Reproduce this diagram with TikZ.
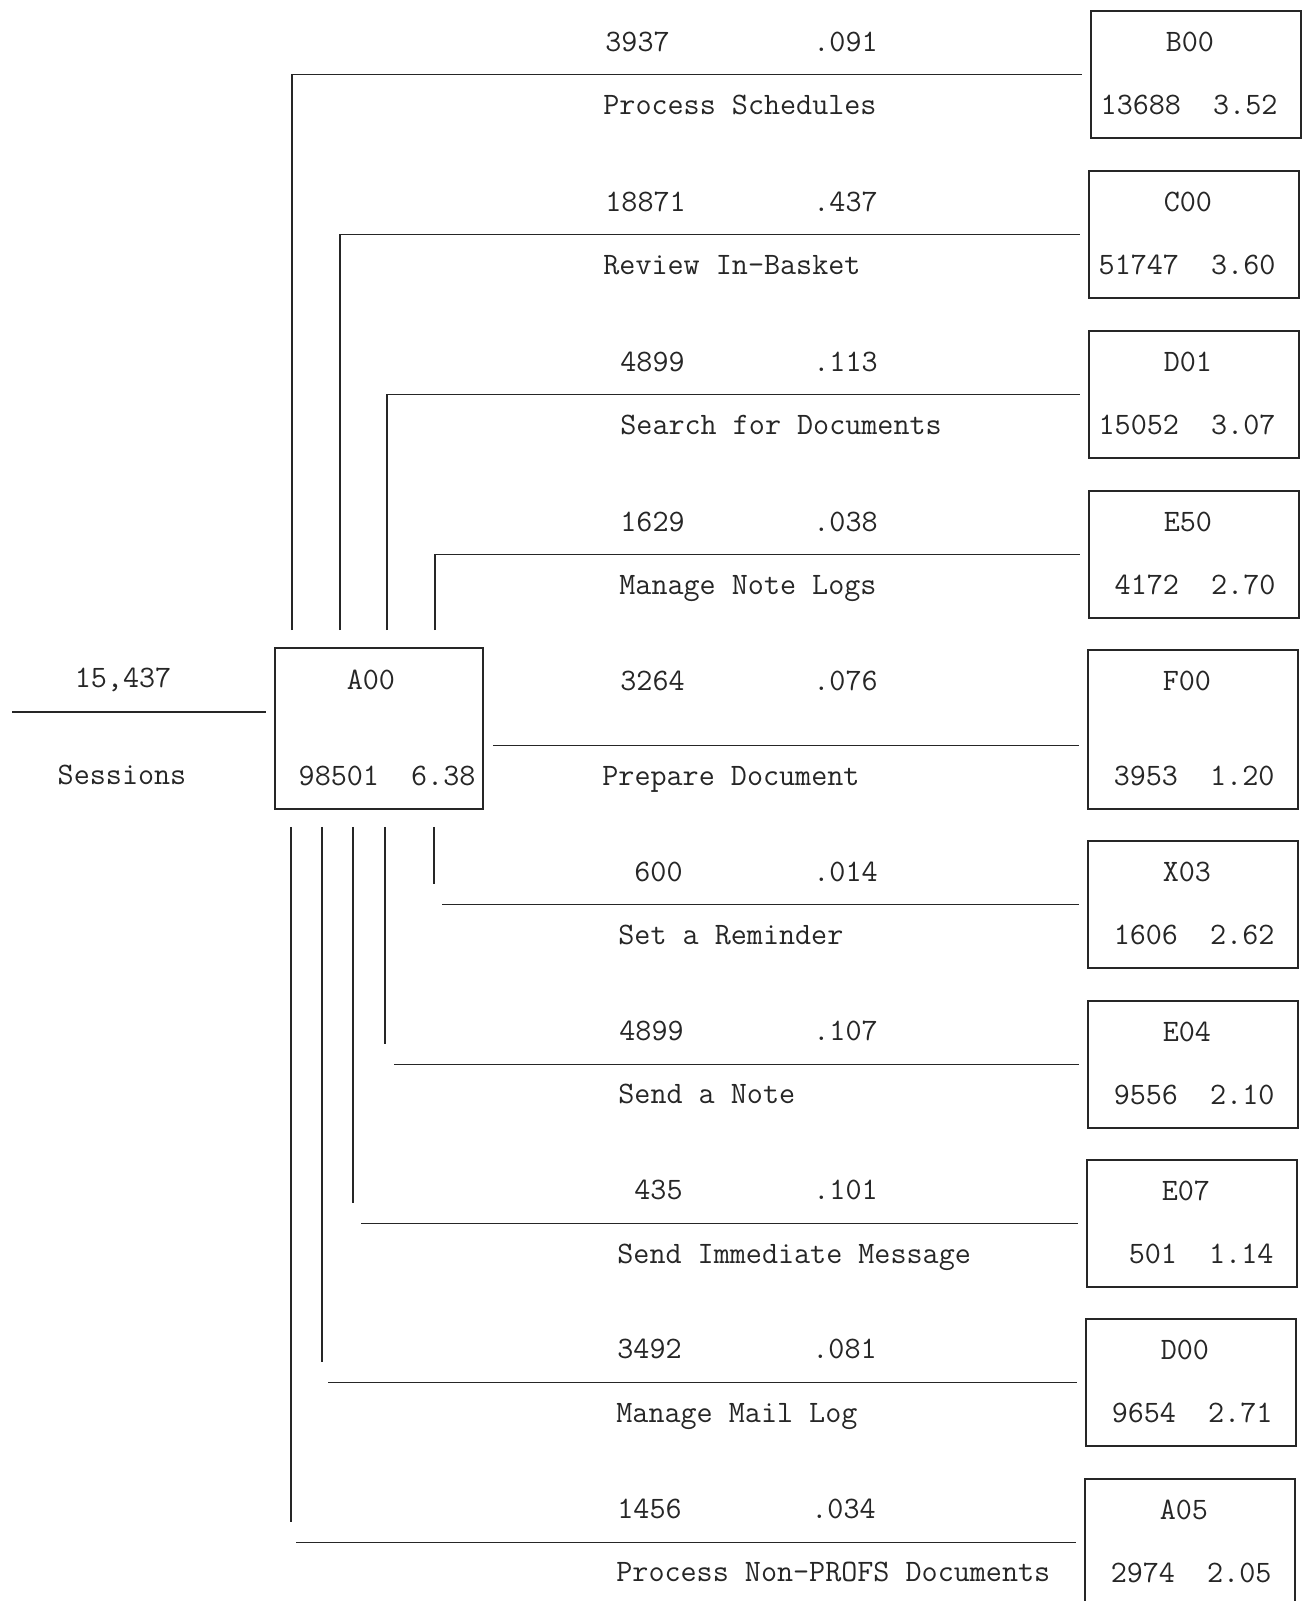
\documentclass[tikz,border=0pt]{standalone}
\usepackage{fontspec}
\usepackage{tikz}
\usetikzlibrary{positioning, calc}
\tikzset{
  modbox/.style   = {draw=black!85, line width=0.9pt, anchor=north west,
                     inner sep=0pt, minimum width=105pt, minimum height=63.5pt},
  tallbox/.style  = {modbox, minimum height=79.5pt},
  mainbox/.style  = {modbox, minimum width=104pt, minimum height=80.5pt},
  typed/.style    = {inner sep=0pt, text height=9.5pt, text depth=0pt,
                     text=black!85, font=\fontsize{15.6pt}{18pt}\selectfont\ttfamily},
  rowtxt/.style   = {typed, anchor=west},
  calllink/.style = {draw=black!85, line width=0.9pt},
}

\begin{document}
\begin{tikzpicture}[x=0.5pt, y=-0.5pt]
    \useasboundingbox (0,0) rectangle (1302,1601);
    \clip (0,0) rectangle (1302,1601);
    % calling module
    \node[mainbox] (a00) at (274,647) {};
    \node[typed] (a00id) at ($(a00.north)+(-8,33)$) {A00};
    \node[typed, anchor=east] (a00val) at ($(a00.north east)+(-8,129)$) {98501~~6.38};
    \node[typed] (sesscnt) at (123,678) {15,437};
    \node[typed] (sesslbl) at (122,775) {Sessions};
    \coordinate (sessin) at (12,712);
    \draw[calllink] (sessin) -- ($(sessin -| a00.west)+(-8,0)$);
    % called modules
    \node[modbox] (b00) at (1090,10) {};
    \node[modbox] (c00) at (1088,170) {};
    \node[modbox] (d01) at (1088,330) {};
    \node[modbox] (e50) at (1088,490) {};
    \node[tallbox] (f00) at (1087,649) {};
    \node[modbox] (x03) at (1087,840) {};
    \node[modbox] (e04) at (1087,1000) {};
    \node[modbox] (e07) at (1086,1159) {};
    \node[modbox] (d00) at (1085,1318) {};
    \node[modbox] (a05) at (1084,1478) {};
    \node[typed] (b00id) at ($(b00.north)+(-6,32)$) {B00};
    \node[typed, anchor=east] (b00val) at ($(b00.north east)+(-24,95)$) {13688~~3.52};
    \node[typed] (c00id) at ($(c00.north)+(-6,32)$) {C00};
    \node[typed, anchor=east] (c00val) at ($(c00.north east)+(-24,95)$) {51747~~3.60};
    \node[typed] (d01id) at ($(d01.north)+(-6,32)$) {D01};
    \node[typed, anchor=east] (d01val) at ($(d01.north east)+(-24,95)$) {15052~~3.07};
    \node[typed] (e50id) at ($(e50.north)+(-6,32)$) {E50};
    \node[typed, anchor=east] (e50val) at ($(e50.north east)+(-24,95)$) {4172~~2.70};
    \node[typed] (f00id) at ($(f00.north)+(-6,32)$) {F00};
    \node[typed, anchor=east] (f00val) at ($(f00.north east)+(-24,127)$) {3953~~1.20};
    \node[typed] (x03id) at ($(x03.north)+(-6,32)$) {X03};
    \node[typed, anchor=east] (x03val) at ($(x03.north east)+(-24,95)$) {1606~~2.62};
    \node[typed] (e04id) at ($(e04.north)+(-6,32)$) {E04};
    \node[typed, anchor=east] (e04val) at ($(e04.north east)+(-24,95)$) {9556~~2.10};
    \node[typed] (e07id) at ($(e07.north)+(-6,32)$) {E07};
    \node[typed, anchor=east] (e07val) at ($(e07.north east)+(-24,95)$) {501~~1.14};
    \node[typed] (d00id) at ($(d00.north)+(-6,32)$) {D00};
    \node[typed, anchor=east] (d00val) at ($(d00.north east)+(-24,95)$) {9654~~2.71};
    \node[typed] (a05id) at ($(a05.north)+(-6,32)$) {A05};
    \node[typed, anchor=east] (a05val) at ($(a05.north east)+(-24,95)$) {2974~~2.05};
    % transaction counts, ratios and names
    \node[rowtxt] (b00cnt) at (605,42) {3937};
    \node[rowtxt] (b00pct) at (813,42) {.091};
    \node[rowtxt] (b00lbl) at (603,105) {Process Schedules};
    \node[rowtxt] (c00cnt) at (605,202) {18871};
    \node[rowtxt] (c00pct) at (813,202) {.437};
    \node[rowtxt] (c00lbl) at (603,265) {Review In-Basket};
    \node[rowtxt] (d01cnt) at (620,362) {4899};
    \node[rowtxt] (d01pct) at (813,362) {.113};
    \node[rowtxt] (d01lbl) at (620,425) {Search for Documents};
    \node[rowtxt] (e50cnt) at (620,522) {1629};
    \node[rowtxt] (e50pct) at (813,522) {.038};
    \node[rowtxt] (e50lbl) at (619,585) {Manage Note Logs};
    \node[rowtxt] (f00cnt) at (620,681) {3264};
    \node[rowtxt] (f00pct) at (813,681) {.076};
    \node[rowtxt] (f00lbl) at (602,776) {Prepare Document};
    \node[rowtxt] (x03cnt) at (634,872) {600};
    \node[rowtxt] (x03pct) at (813,872) {.014};
    \node[rowtxt] (x03lbl) at (618,935) {Set a Reminder};
    \node[rowtxt] (e04cnt) at (619,1031) {4899};
    \node[rowtxt] (e04pct) at (813,1031) {.107};
    \node[rowtxt] (e04lbl) at (618,1094) {Send a Note};
    \node[rowtxt] (e07cnt) at (634,1190) {435};
    \node[rowtxt] (e07pct) at (813,1190) {.101};
    \node[rowtxt] (e07lbl) at (617,1254) {Send Immediate Message};
    \node[rowtxt] (d00cnt) at (617,1349) {3492};
    \node[rowtxt] (d00pct) at (812,1349) {.081};
    \node[rowtxt] (d00lbl) at (616,1413) {Manage Mail Log};
    \node[rowtxt] (a05cnt) at (617,1509) {1456};
    \node[rowtxt] (a05pct) at (811,1509) {.034};
    \node[rowtxt] (a05lbl) at (616,1572) {Process Non-PROFS Documents};
    % calls above A00
    \draw[calllink] ($(a00.north west)+(18,-17)$) |- ([xshift=-4pt]b00.west);
    \draw[calllink] ($(a00.north west)+(66,-17)$) |- ([xshift=-4pt]c00.west);
    \draw[calllink] ($(a00.north west)+(113,-17)$) |- ([xshift=-4pt]d01.west);
    \draw[calllink] ($(a00.north west)+(161,-17)$) |- ([xshift=-4pt]e50.west);
    \draw[calllink] ($(a00.east)+(9,17)$) -- ($(f00.west)+(-8,16)$);
    % calls below A00
    \draw[calllink] ($(a00.south west)+(160,17)$) -- ($(a00.south west |- x03.west)+(160,-20)$)
                    ($(a00.south west |- x03.west)+(168,0)$) -- ([xshift=-4pt]x03.west);
    \draw[calllink] ($(a00.south west)+(111,17)$) -- ($(a00.south west |- e04.west)+(111,-20)$)
                    ($(a00.south west |- e04.west)+(120,0)$) -- ([xshift=-4pt]e04.west);
    \draw[calllink] ($(a00.south west)+(79,17)$) -- ($(a00.south west |- e07.west)+(79,-20)$)
                    ($(a00.south west |- e07.west)+(87,0)$) -- ([xshift=-4pt]e07.west);
    \draw[calllink] ($(a00.south west)+(48,17)$) -- ($(a00.south west |- d00.west)+(48,-20)$)
                    ($(a00.south west |- d00.west)+(54,0)$) -- ([xshift=-4pt]d00.west);
    \draw[calllink] ($(a00.south west)+(17,17)$) -- ($(a00.south west |- a05.west)+(17,-20)$)
                    ($(a00.south west |- a05.west)+(22,0)$) -- ([xshift=-4pt]a05.west);
\end{tikzpicture}
\end{document}
